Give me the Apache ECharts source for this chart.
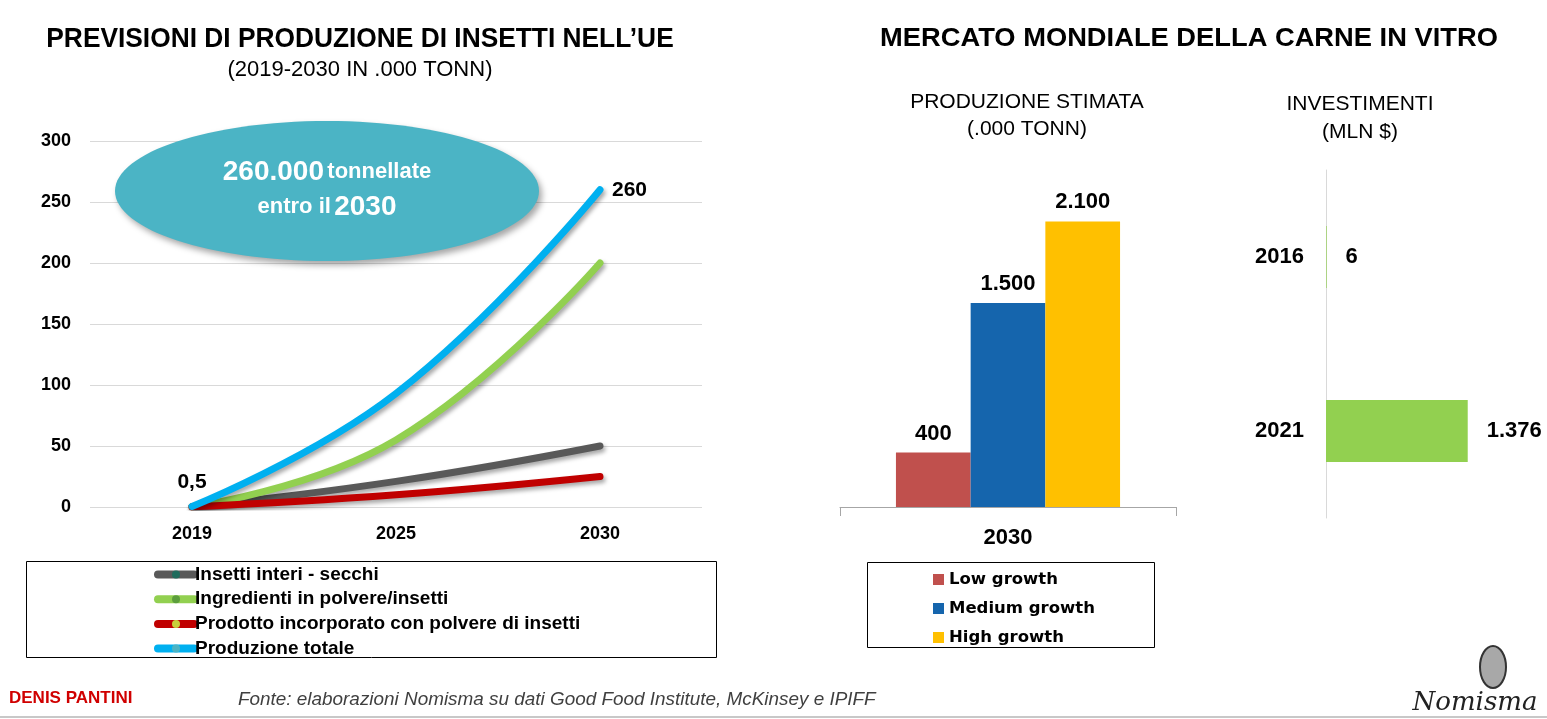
<!DOCTYPE html>
<html>
<head>
<meta charset="utf-8">
<script src="https://cdn.jsdelivr.net/npm/echarts@6/dist/echarts.min.js"></script>
<style>
  html, body { margin: 0; padding: 0; background: #ffffff; }
  #chart { width: 1547px; height: 719px; }
</style>
</head>
<body>
<div id="chart"></div>
<script>
// ---------- DATA ----------
const years = ['2019', '2025', '2030'];
const seriesNames = ['Insetti interi - secchi', 'Ingredienti in polvere/insetti', 'Prodotto incorporato con polvere di insetti', 'Produzione totale'];
const insettiInteri = [0.2, 21, 50];
const ingredienti = [0.2, 55, 200];
const prodottoIncorporato = [0.1, 10, 25];
const produzioneTotale = [0.5, 93, 260];
const yTicks = [0, 50, 100, 150, 200, 250, 300];

const prodCategories = ['2030'];
const growthNames = ['Low growth', 'Medium growth', 'High growth'];
const lowGrowth = [400];
const mediumGrowth = [1500];
const highGrowth = [2100];

const investYears = ['2016', '2021'];
const investimenti = [6, 1376];

// ---------- HELPERS ----------
const SANS = '"Liberation Sans", Arial, sans-serif';
function fmt(v) {
  const parts = String(v).split('.');
  parts[0] = parts[0].replace(/\B(?=(\d{3})+(?!\d))/g, '.');
  return parts.length > 1 ? parts[0] + ',' + parts[1] : parts[0];
}
const lineShadow = { shadowColor: 'rgba(0,0,0,0.35)', shadowBlur: 4, shadowOffsetX: 2, shadowOffsetY: 3 };

function lineSeries(name, data, color, markerColor) {
  return {
    name: name, type: 'line', xAxisIndex: 0, yAxisIndex: 0,
    data: data, smooth: 0.45, symbol: 'circle', symbolSize: 0, showSymbol: true,
    lineStyle: Object.assign({ color: color, width: 7, cap: 'round' }, lineShadow),
    itemStyle: { color: markerColor },
    emphasis: { disabled: true }, silent: true, animation: false
  };
}

const totalData = produzioneTotale.map((v, i) => {
  if (i === 0) return { value: v, label: { show: true, position: 'top', distance: 14 } };
  if (i === produzioneTotale.length - 1) return { value: v, label: { show: true, position: 'right', distance: 12 } };
  return v;
});

const chart = echarts.init(document.getElementById('chart'), null, { renderer: 'canvas' });

const option = {
  backgroundColor: '#ffffff',
  animation: false,
  textStyle: { fontFamily: SANS },
  grid: [
    { left: 90, top: 141, width: 612, height: 366 },
    { left: 840, top: 180.6, width: 336, height: 326.4 },
    { left: 1326, top: 170, width: 206, height: 348 }
  ],
  xAxis: [
    { type: 'category', gridIndex: 0, data: years, boundaryGap: true,
      axisLine: { show: false }, axisTick: { show: false },
      axisLabel: { color: '#000', fontSize: 18, fontWeight: 'bold', fontFamily: SANS, margin: 18 } },
    { type: 'category', gridIndex: 1, data: prodCategories,
      axisLine: { show: true, lineStyle: { color: '#a6a6a6', width: 1 } },
      axisTick: { show: true, length: 9, lineStyle: { color: '#a6a6a6' } },
      axisLabel: { color: '#000', fontSize: 22, fontWeight: 'bold', fontFamily: SANS, margin: 20 } },
    { type: 'value', gridIndex: 2, min: 0, max: 2000, show: false }
  ],
  yAxis: [
    { type: 'value', gridIndex: 0, min: yTicks[0], max: yTicks[yTicks.length - 1], interval: yTicks[1] - yTicks[0],
      axisLine: { show: false }, axisTick: { show: false },
      splitLine: { lineStyle: { color: '#d9d9d9', width: 1 } },
      axisLabel: { color: '#000', fontSize: 18, fontWeight: 'bold', fontFamily: SANS, margin: 19 } },
    { type: 'value', gridIndex: 1, min: 0, max: 2400, show: false },
    { type: 'category', gridIndex: 2, data: investYears, inverse: true,
      axisLine: { show: true, lineStyle: { color: '#d9d9d9', width: 1 } },
      axisTick: { show: false },
      axisLabel: { color: '#000', fontSize: 22, fontWeight: 'bold', fontFamily: SANS, margin: 22 } }
  ],
  legend: [
    { data: seriesNames, orient: 'vertical', left: 154, top: 565, itemWidth: 36, itemHeight: 10, itemGap: 5.7, padding: 0,
      selectedMode: false,
      lineStyle: { width: 8, cap: 'round' },
      textStyle: { color: '#000', fontSize: 19, fontWeight: 'bold', fontFamily: SANS, padding: [0, 0, 0, -4] } },
    { data: growthNames, orient: 'vertical', left: 933, top: 571, itemWidth: 11, itemHeight: 11, itemGap: 12, padding: 0,
      selectedMode: false, icon: 'rect',
      textStyle: { color: '#000', fontSize: 16.5, fontWeight: 'bold', fontFamily: '"DejaVu Sans", sans-serif' } }
  ],
  series: [
    lineSeries(seriesNames[0], insettiInteri, '#595959', '#1f6b5c'),
    lineSeries(seriesNames[1], ingredienti, '#92d050', '#5c9e3c'),
    lineSeries(seriesNames[2], prodottoIncorporato, '#c00000', '#c8d03c'),
    Object.assign(lineSeries(seriesNames[3], totalData, '#00b0f0', '#4bb3c4'), {
      label: { show: false, color: '#000', fontSize: 21, fontWeight: 'bold', fontFamily: SANS,
        formatter: p => fmt(p.value) }
    }),
    { name: growthNames[0], type: 'bar', xAxisIndex: 1, yAxisIndex: 1, data: lowGrowth,
      barGap: '0%', barCategoryGap: '33.3%', itemStyle: { color: '#c0504d' },
      label: { show: true, position: 'top', distance: 8, color: '#000', fontSize: 22, fontWeight: 'bold', fontFamily: SANS, formatter: p => fmt(p.value) } },
    { name: growthNames[1], type: 'bar', xAxisIndex: 1, yAxisIndex: 1, data: mediumGrowth,
      barGap: '0%', barCategoryGap: '33.3%', itemStyle: { color: '#1565ad' },
      label: { show: true, position: 'top', distance: 8, color: '#000', fontSize: 22, fontWeight: 'bold', fontFamily: SANS, formatter: p => fmt(p.value) } },
    { name: growthNames[2], type: 'bar', xAxisIndex: 1, yAxisIndex: 1, data: highGrowth,
      barGap: '0%', barCategoryGap: '33.3%', itemStyle: { color: '#ffc000' },
      label: { show: true, position: 'top', distance: 8, color: '#000', fontSize: 22, fontWeight: 'bold', fontFamily: SANS, formatter: p => fmt(p.value) } },
    { name: 'Investimenti', type: 'bar', xAxisIndex: 2, yAxisIndex: 2, data: investimenti,
      barWidth: 62, itemStyle: { color: '#92d050' },
      label: { show: true, position: 'right', distance: 19, color: '#000', fontSize: 22, fontWeight: 'bold', fontFamily: SANS, formatter: p => fmt(p.value) } }
  ],
  graphic: [
    // Titles
    { type: 'text', x: 360, y: 39, scaleX: 0.94, z: 10,
      style: { text: 'PREVISIONI DI PRODUZIONE DI INSETTI NELL\u2019UE', font: 'bold 28px "Liberation Sans", Arial, sans-serif', fill: '#000', textAlign: 'center', textVerticalAlign: 'middle' } },
    { type: 'text', x: 360, y: 70, z: 10,
      style: { text: '(2019-2030 IN .000 TONN)', font: '22px "Liberation Sans", Arial, sans-serif', fill: '#000', textAlign: 'center', textVerticalAlign: 'middle' } },
    { type: 'text', x: 1189, y: 39, scaleX: 1.05, z: 10,
      style: { text: 'MERCATO MONDIALE DELLA CARNE IN VITRO', font: 'bold 26px "Liberation Sans", Arial, sans-serif', fill: '#000', textAlign: 'center', textVerticalAlign: 'middle' } },
    { type: 'text', x: 1027, y: 102, z: 10,
      style: { text: 'PRODUZIONE STIMATA', font: '21px "Liberation Sans", Arial, sans-serif', fill: '#000', textAlign: 'center', textVerticalAlign: 'middle' } },
    { type: 'text', x: 1027, y: 129, z: 10,
      style: { text: '(.000 TONN)', font: '21px "Liberation Sans", Arial, sans-serif', fill: '#000', textAlign: 'center', textVerticalAlign: 'middle' } },
    { type: 'text', x: 1360, y: 104, z: 10,
      style: { text: 'INVESTIMENTI', font: '21px "Liberation Sans", Arial, sans-serif', fill: '#000', textAlign: 'center', textVerticalAlign: 'middle' } },
    { type: 'text', x: 1360, y: 132, z: 10,
      style: { text: '(MLN $)', font: '21px "Liberation Sans", Arial, sans-serif', fill: '#000', textAlign: 'center', textVerticalAlign: 'middle' } },
    // Callout ellipse
    { type: 'ellipse', z: 5, shape: { cx: 327, cy: 191, rx: 212, ry: 70 },
      style: { fill: '#4bb4c5', shadowColor: 'rgba(0,0,0,0.35)', shadowBlur: 6, shadowOffsetX: 3, shadowOffsetY: 4 } },
    { type: 'text', x: 327, y: 172, z: 6,
      style: { text: '{b|260.000} {s|tonnellate}', fill: '#fff', textAlign: 'center', textVerticalAlign: 'middle',
        rich: { b: { font: 'bold 28px "Liberation Sans", Arial, sans-serif', fill: '#fff' }, s: { font: 'bold 22px "Liberation Sans", Arial, sans-serif', fill: '#fff' } } } },
    { type: 'text', x: 327, y: 207, z: 6,
      style: { text: '{s|entro il} {b|2030}', fill: '#fff', textAlign: 'center', textVerticalAlign: 'middle',
        rich: { b: { font: 'bold 28px "Liberation Sans", Arial, sans-serif', fill: '#fff' }, s: { font: 'bold 22px "Liberation Sans", Arial, sans-serif', fill: '#fff' } } } },
    // Legend boxes
    { type: 'rect', z: 1, shape: { x: 26.5, y: 561.5, width: 690, height: 96 }, style: { fill: 'none', stroke: '#000', lineWidth: 1 } },
    { type: 'rect', z: 1, shape: { x: 867.5, y: 562.5, width: 287, height: 85 }, style: { fill: 'none', stroke: '#000', lineWidth: 1 } },
    // Footer
    { type: 'text', x: 9, y: 698, z: 10,
      style: { text: 'DENIS PANTINI', font: 'bold 17px "Liberation Sans", Arial, sans-serif', fill: '#d00000', textAlign: 'left', textVerticalAlign: 'middle' } },
    { type: 'text', x: 238, y: 700, scaleX: 1.05, z: 10,
      style: { text: 'Fonte: elaborazioni Nomisma su dati Good Food Institute, McKinsey e IPIFF', font: 'italic 18px "Liberation Sans", Arial, sans-serif', fill: '#404040', textAlign: 'left', textVerticalAlign: 'middle' } },
    { type: 'ellipse', z: 10, shape: { cx: 1493, cy: 667, rx: 13, ry: 21 },
      style: { fill: '#a8a8a8', stroke: '#333', lineWidth: 2 } },
    { type: 'text', x: 1475, y: 703, z: 10,
      style: { text: 'Nomisma', font: 'italic 26px "DejaVu Serif", "Liberation Serif", serif', fill: '#222', textAlign: 'center', textVerticalAlign: 'middle' } },
    { type: 'line', z: 10, shape: { x1: 0, y1: 717, x2: 1547, y2: 717 }, style: { stroke: '#c8c8c8', lineWidth: 2 } }
  ]
};
chart.setOption(option);
</script>
</body>
</html>
